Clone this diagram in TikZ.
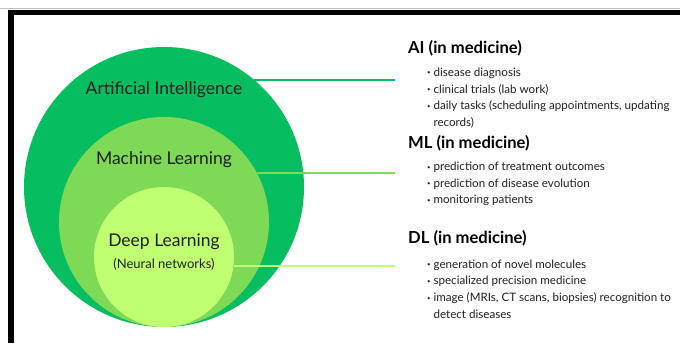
\documentclass[tikz,border=0pt]{standalone}
\usepackage{fontspec}
\setmainfont{Lato}

\definecolor{aigreen}{HTML}{06BD60}
\definecolor{mlgreen}{HTML}{7ED957}
\definecolor{dlgreen}{HTML}{C1FF72}
\definecolor{inktext}{HTML}{1F1F1F}

\newcommand{\bl}{\raisebox{0.12em}{\fontsize{6}{6}\selectfont\textbullet}\hspace{0.25em}}
\newcommand{\blgap}{\phantom{\bl}}

\begin{document}
\begin{tikzpicture}[
x=1pt, y=-1pt,
ring/.style={
circle,
inner sep=0pt
},
ringlabel/.style={
text=inktext,
font=\fontsize{17.5}{20}\selectfont
},
head/.style={
anchor=west,
inner sep=0pt,
text=black,
font=\fontsize{16.6}{19}\selectfont\bfseries
},
items/.style={
anchor=west,
inner sep=0pt,
align=left,
text=inktext,
font=\fontsize{11.6}{16.7}\selectfont
},
link/.style={
line width=2pt
}
]

\useasboundingbox (0,0) rectangle (680,343);

% frame
\draw[gray!50, line width=0.6pt] (0,8) -- (680,8);
\fill[black] (8,10) rectangle (680,15);
\fill[black] (8,10) rectangle (14,343);

% nested circles
\node[ring, fill=aigreen, minimum size=280pt] (ai) at (164,187) {};
\node[ring, fill=mlgreen, minimum size=210pt] (ml) at (164,222) {};
\node[ring, fill=dlgreen, minimum size=140pt] (dl) at (164,257) {};

\node[ringlabel] (aiT) at (164,90) {Artificial Intelligence};
\node[ringlabel] (mlT) at (164,160) {Machine Learning};
\node[ringlabel] (dlT) at (164,242) {Deep Learning};
\node[text=inktext, font=\fontsize{13}{15}\selectfont] (dlS)
at (164,264) {(Neural networks)};

% right column
\node[head] (aiH) at (408,48) {AI (in medicine)};
\node[items] (aiL) at (427,98) {%
\bl disease diagnosis\\
\bl clinical trials (lab work)\\
\bl daily tasks (scheduling appointments, updating\\
\blgap records)};

\node[head] (mlH) at (408,143) {ML (in medicine)};
\node[items] (mlL) at (427,184) {%
\bl prediction of treatment outcomes\\
\bl prediction of disease evolution\\
\bl monitoring patients};

\node[head] (dlH) at (408,238) {DL (in medicine)};
\node[items] (dlL) at (427,289) {%
\bl generation of novel molecules\\
\bl specialized precision medicine\\
\bl image (MRIs, CT scans, biopsies) recognition to\\
\blgap detect diseases};

% connectors
\coordinate (aiE) at (395,80);
\coordinate (mlE) at (395,172);
\coordinate (dlE) at (395,266);

\draw[link, aigreen] (ai.50) -- (ai.50 -| aiE);
\draw[link, mlgreen] (ml.28) -- (ml.28 -| mlE);
\draw[link, dlgreen] (dl.-7) -- (dl.-7 -| dlE);

\end{tikzpicture}
\end{document}
